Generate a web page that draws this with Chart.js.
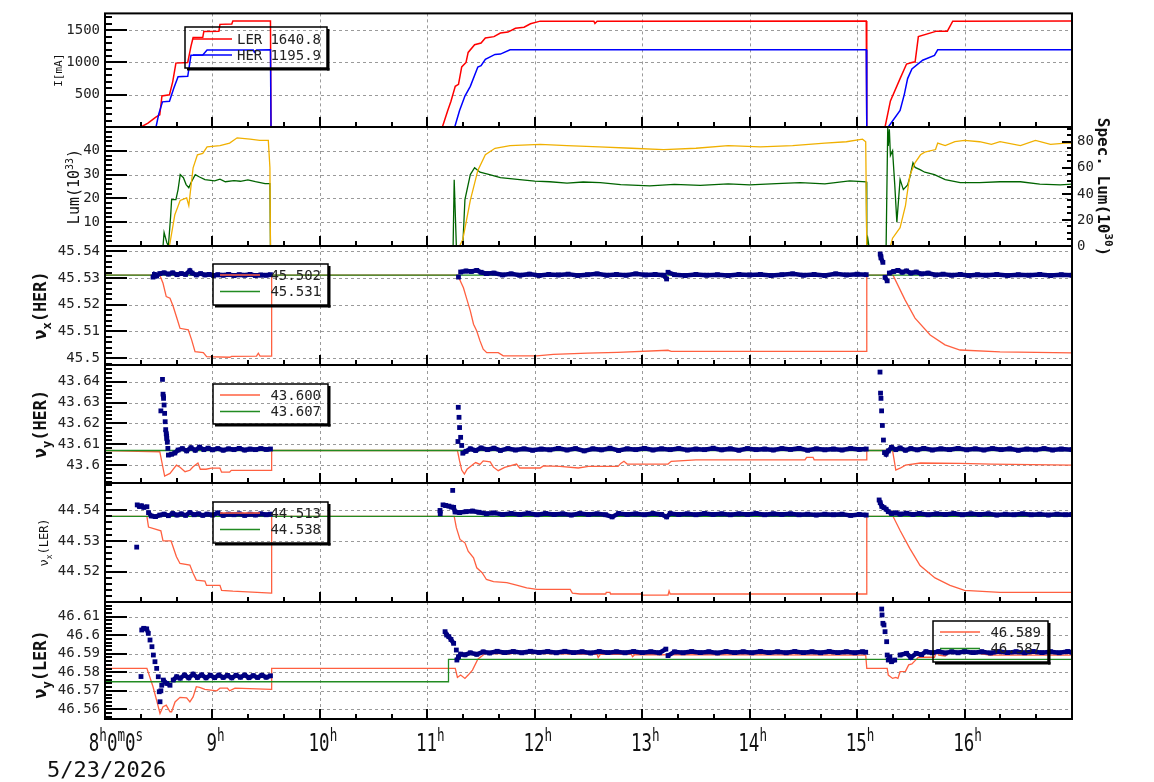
<!DOCTYPE html>
<html>
<head>
<meta charset="utf-8">
<script src="https://cdn.jsdelivr.net/npm/chart.js@4.4.1/dist/chart.umd.min.js"></script>
<style>
  body { margin: 0; background: #fff; }
  #wrap { position: relative; width: 1154px; height: 782px; }
  #wrap canvas { position: absolute; left: 0; top: 0; }
</style>
</head>
<body>
<div id="wrap"></div>
<script>
// ---- data (time in hours) ----
const X_MIN = 8, X_MAX = 17;
const HOUR_TICKS = [8, 9, 10, 11, 12, 13, 14, 15, 16];
const DATE_LABEL = '5/23/2026';

// beam currents [mA]
const I_TICKS = [500, 1000, 1500];
const I_NAMES = ['LER', 'HER'];
const I_LAST = ['1640.8', '1195.9'];
const I_LER = [[8,0],[8.335,0],[8.40,60],[8.47,150],[8.51,190],[8.53,480],[8.60,500],[8.63,700],[8.66,990],[8.77,1000],[8.80,1250],[8.82,1385],[8.91,1390],[8.92,1480],[9.06,1485],[9.07,1590],[9.18,1595],[9.19,1642],[9.54,1642],[9.545,0],
  [11.14,0],[11.19,255],[11.22,400],[11.26,630],[11.29,660],[11.32,930],[11.36,1000],[11.38,1155],[11.44,1275],[11.50,1300],[11.54,1380],[11.62,1400],[11.68,1455],[11.75,1470],[11.82,1530],[11.90,1545],[11.96,1600],[12.05,1640],[12.55,1640],[12.56,1605],[12.58,1640],[15.085,1641],[15.09,0],
  [15.26,0],[15.31,405],[15.40,750],[15.46,975],[15.51,1000],[15.54,1010],[15.57,1400],[15.74,1485],[15.84,1485],[15.89,1640],[17,1641]];
const I_HER = [[8,0],[8.475,0],[8.50,200],[8.535,390],[8.60,400],[8.64,600],[8.68,780],[8.77,785],[8.79,1000],[8.80,1110],[8.91,1115],[8.95,1192],[9.38,1193],[9.39,1160],[9.41,1193],[9.54,1195],[9.545,0],
  [11.255,0],[11.30,255],[11.35,480],[11.40,630],[11.47,930],[11.50,950],[11.54,1050],[11.63,1125],[11.68,1130],[11.77,1195],[15.085,1196],[15.09,0],
  [15.29,0],[15.40,255],[15.44,510],[15.47,750],[15.51,900],[15.61,1035],[15.72,1110],[15.75,1196],[17,1196]];

// luminosity [1e33] (left) and specific luminosity [1e30] (right)
const LUM_TICKS = [10, 20, 30, 40];
const SPEC_TICKS = [0, 20, 40, 60, 80];
const LUM = [[8,0],[8.54,0],[8.55,5.7],[8.575,1.5],[8.59,0],[8.61,12],[8.62,19.5],[8.66,19.5],[8.68,23.7],[8.70,30],[8.73,28.7],[8.755,25.8],[8.78,24.5],[8.80,26.6],[8.84,30],[8.88,29],[8.93,27.9],[9.02,27.4],[9.07,28.1],[9.12,27],[9.20,27.5],[9.26,27.2],[9.33,27.8],[9.40,27],[9.49,26.2],[9.535,26.2],[9.54,0],
  [11.24,0],[11.25,27.8],[11.27,0],[11.33,0],[11.35,19.5],[11.40,30],[11.44,32.9],[11.49,31],[11.58,30],[11.68,28.7],[11.86,27.9],[12.0,27.3],[12.14,27],[12.3,26.4],[12.45,26.9],[12.61,26.6],[12.8,25.8],[13.07,25.3],[13.3,25.9],[13.54,25.5],[13.8,26.1],[14.0,25.7],[14.25,26.2],[14.47,26.6],[14.7,26.1],[14.93,27.4],[15.085,27],[15.09,0],[15.10,3],[15.11,0],
  [15.27,0],[15.285,49.6],[15.29,42],[15.30,49],[15.31,38],[15.33,40],[15.35,26],[15.37,10],[15.38,16],[15.40,28],[15.43,23.7],[15.47,25.7],[15.49,28.7],[15.52,35],[15.54,33],[15.59,32],[15.63,31],[15.72,30],[15.82,27.9],[15.96,26.6],[16.14,26.6],[16.33,27],[16.52,27],[16.70,26],[16.89,25.7],[17,26]];
const SPEC_LUM = [[8,0],[8.60,0],[8.65,24],[8.70,35],[8.76,37],[8.78,31],[8.82,60],[8.86,70],[8.91,71],[8.95,76],[9.07,77],[9.16,79],[9.23,83],[9.35,82],[9.44,81],[9.52,81],[9.535,60],[9.54,0],
  [11.30,0],[11.33,5],[11.40,35],[11.47,58],[11.54,70],[11.63,75],[11.77,77],[12.05,78],[12.3,77],[12.6,76],[12.9,75],[13.2,74],[13.5,75],[13.8,77],[14.1,76],[14.4,77],[14.7,79],[14.9,80],[15.05,82],[15.08,80],[15.09,0],
  [15.31,0],[15.33,6],[15.40,14],[15.45,31],[15.49,54],[15.54,64],[15.59,70],[15.63,72],[15.73,74],[15.75,79],[15.82,77],[15.91,80],[16.00,81],[16.14,80],[16.25,78],[16.33,80],[16.52,77],[16.66,81],[16.80,78],[16.94,79],[17,79]];

// horizontal tune, HER
const NUX_HER_TICKS = [45.5, 45.51, 45.52, 45.53, 45.54];
const NUX_HER_LEG = ['45.502', '45.531'];
const NUX_HER_SET = [[8,45.531],[8.51,45.531],[8.54,45.528],[8.57,45.523],[8.605,45.5224],[8.635,45.5193],[8.665,45.5155],[8.698,45.5112],[8.775,45.5106],[8.807,45.5068],[8.838,45.5025],[8.915,45.5021],[8.946,45.5006],[9.163,45.5004],[9.178,45.5007],[9.41,45.5008],[9.427,45.5019],[9.443,45.5008],[9.55,45.5008],[9.551,45.531],
  [11.29,45.531],[11.30,45.5295],[11.336,45.5263],[11.368,45.522],[11.40,45.5177],[11.43,45.5127],[11.46,45.5102],[11.49,45.5065],[11.52,45.5034],[11.553,45.5021],[11.66,45.5021],[11.707,45.5009],[12.018,45.5009],[12.173,45.5015],[12.49,45.5019],[12.77,45.5022],[13.24,45.503],[13.27,45.5026],[15.088,45.5026],[15.09,45.531],
  [15.334,45.531],[15.446,45.5218],[15.539,45.515],[15.68,45.5087],[15.818,45.505],[15.958,45.5031],[16.33,45.5024],[17,45.502]];
const NUX_HER_REF = [[8,45.531],[17,45.531]];
const NUX_HER_MEAS = [[8.447,45.5303],[8.46,45.5313],[8.48,45.5307],[8.51,45.5316],[8.55,45.5319],[8.59,45.5314],[8.63,45.5319],[8.67,45.5312],[8.71,45.5316],[8.75,45.5313],[8.79,45.5327],[8.81,45.5318],[8.85,45.5311],[8.89,45.5316],[8.93,45.5311],[8.97,45.5313],[9.01,45.5309],[9.05,45.5312],[9.10,45.5310],[9.15,45.5313],[9.20,45.5309],[9.25,45.5312],[9.30,45.5310],[9.35,45.5313],[9.40,45.5309],[9.45,45.5311],[9.50,45.5310],[9.54,45.5312],
  [11.29,45.5303],[11.31,45.5322],[11.36,45.5326],[11.41,45.5324],[11.46,45.5328],[11.50,45.5321],[11.55,45.5316],[11.62,45.5318],[11.70,45.5311],[11.78,45.5315],[11.86,45.5310],[11.95,45.5314],[12.04,45.5309],[12.13,45.5313],[12.22,45.5311],[12.31,45.5314],[12.40,45.5309],[12.49,45.5312],[12.58,45.5315],[12.67,45.5310],[12.76,45.5313],[12.85,45.5310],[12.94,45.5315],[13.03,45.5311],[13.12,45.5313],[13.20,45.5310],[13.227,45.5296],[13.24,45.5321],[13.30,45.5312],[13.40,45.5309],[13.50,45.5313],[13.60,45.5310],[13.70,45.5312],[13.80,45.5309],[13.90,45.5313],[14.00,45.5311],[14.10,45.5313],[14.20,45.5309],[14.30,45.5312],[14.40,45.5315],[14.50,45.5310],[14.60,45.5313],[14.70,45.5309],[14.80,45.5315],[14.90,45.5311],[15.00,45.5314],[15.085,45.5312],
  [15.215,45.5389],[15.222,45.5375],[15.24,45.5358],[15.26,45.5302],[15.28,45.5289],[15.30,45.5318],[15.34,45.5324],[15.38,45.5328],[15.42,45.5321],[15.46,45.5326],[15.50,45.5318],[15.55,45.5322],[15.60,45.5315],[15.66,45.5318],[15.73,45.5311],[15.80,45.5314],[15.88,45.5310],[15.96,45.5313],[16.04,45.5309],[16.12,45.5312],[16.20,45.5310],[16.30,45.5313],[16.40,45.5309],[16.50,45.5312],[16.60,45.5310],[16.70,45.5313],[16.80,45.5309],[16.90,45.5312],[17.0,45.5310]];

// vertical tune, HER
const NUY_HER_TICKS = [43.6, 43.61, 43.62, 43.63, 43.64];
const NUY_HER_LEG = ['43.600', '43.607'];
const NUY_HER_SET = [[8,43.607],[8.51,43.6064],[8.555,43.5947],[8.605,43.596],[8.665,43.600],[8.698,43.599],[8.745,43.5968],[8.79,43.5975],[8.82,43.5992],[8.865,43.601],[8.887,43.598],[8.94,43.598],[8.99,43.5985],[9.07,43.5985],[9.085,43.5966],[9.16,43.5966],[9.175,43.5975],[9.55,43.5975],[9.551,43.607],
  [11.28,43.607],[11.30,43.602],[11.32,43.5976],[11.345,43.5957],[11.37,43.598],[11.43,43.6005],[11.45,43.6012],[11.49,43.6003],[11.52,43.602],[11.585,43.6015],[11.615,43.599],[11.66,43.5973],[11.72,43.5989],[11.83,43.6005],[11.86,43.5986],[12.05,43.5986],[12.08,43.5996],[12.235,43.5994],[12.405,43.5986],[12.50,43.5994],[12.775,43.5994],[12.80,43.6008],[12.83,43.6018],[12.86,43.6005],[13.24,43.6005],[13.27,43.6018],[13.50,43.6025],[14.515,43.6025],[14.53,43.6037],[14.59,43.6037],[14.60,43.6025],[15.088,43.6025],[15.09,43.607],
  [15.33,43.607],[15.36,43.5976],[15.40,43.5985],[15.45,43.600],[15.59,43.601],[15.96,43.6008],[16.25,43.6005],[17,43.600]];
const NUY_HER_REF = [[8,43.607],[17,43.607]];
const NUY_HER_MEAS = [[8.52,43.626],[8.535,43.6411],[8.54,43.634],[8.545,43.632],[8.55,43.6288],[8.555,43.6248],[8.56,43.6208],[8.565,43.617],[8.57,43.615],[8.575,43.6128],[8.58,43.611],[8.585,43.608],[8.59,43.6048],[8.62,43.6052],[8.65,43.6058],[8.68,43.6072],[8.72,43.6079],[8.76,43.6068],[8.80,43.6083],[8.84,43.6071],[8.88,43.6086],[8.92,43.6074],[8.96,43.6081],[9.00,43.6073],[9.05,43.6079],[9.10,43.6071],[9.15,43.6078],[9.20,43.6074],[9.25,43.6080],[9.30,43.6072],[9.35,43.6077],[9.40,43.6074],[9.45,43.6079],[9.50,43.6075],[9.54,43.6077],
  [11.285,43.6113],[11.288,43.6277],[11.295,43.6229],[11.30,43.618],[11.31,43.6133],[11.32,43.6094],[11.33,43.6057],[11.36,43.6066],[11.40,43.6078],[11.45,43.607],[11.50,43.6082],[11.56,43.6074],[11.62,43.6081],[11.68,43.607],[11.75,43.6079],[11.82,43.6072],[11.90,43.6078],[11.98,43.6071],[12.06,43.6077],[12.14,43.6073],[12.22,43.6080],[12.30,43.6072],[12.38,43.6079],[12.46,43.6068],[12.54,43.6078],[12.62,43.6073],[12.70,43.6081],[12.78,43.6070],[12.86,43.6078],[12.94,43.6074],[13.02,43.6080],[13.10,43.6072],[13.18,43.6078],[13.26,43.6074],[13.34,43.6079],[13.42,43.6072],[13.50,43.6077],[13.58,43.6074],[13.66,43.6081],[13.74,43.6073],[13.82,43.6078],[13.90,43.6071],[13.98,43.6079],[14.06,43.6074],[14.14,43.6077],[14.22,43.6072],[14.30,43.6079],[14.38,43.6075],[14.46,43.6080],[14.54,43.6071],[14.62,43.6078],[14.70,43.6073],[14.78,43.6077],[14.86,43.6072],[14.94,43.6079],[15.02,43.6075],[15.085,43.6077],
  [15.213,43.6446],[15.218,43.6345],[15.222,43.632],[15.228,43.626],[15.235,43.619],[15.245,43.612],[15.255,43.606],[15.27,43.6052],[15.29,43.6068],[15.32,43.6085],[15.36,43.6074],[15.40,43.6082],[15.45,43.6071],[15.50,43.6079],[15.56,43.6073],[15.62,43.6080],[15.70,43.6072],[15.78,43.6078],[15.86,43.6074],[15.94,43.6080],[16.02,43.6073],[16.10,43.6078],[16.18,43.6072],[16.26,43.6079],[16.34,43.6074],[16.42,43.6078],[16.50,43.6071],[16.58,43.6077],[16.66,43.6073],[16.74,43.6079],[16.82,43.6072],[16.90,43.6077],[17.0,43.6074]];

// horizontal tune, LER
const NUX_LER_TICKS = [44.52, 44.53, 44.54];
const NUX_LER_LEG = ['44.513', '44.538'];
const NUX_LER_SET = [[8,44.538],[8.39,44.538],[8.405,44.5345],[8.52,44.5333],[8.54,44.530],[8.615,44.530],[8.665,44.5249],[8.698,44.5227],[8.79,44.5222],[8.82,44.5195],[8.85,44.5173],[8.93,44.517],[8.945,44.5156],[9.07,44.5156],[9.085,44.514],[9.19,44.5137],[9.55,44.5131],[9.551,44.538],
  [11.25,44.538],[11.27,44.5343],[11.304,44.5305],[11.35,44.5294],[11.38,44.5267],[11.43,44.5245],[11.46,44.5213],[11.51,44.5197],[11.55,44.5175],[11.616,44.5168],[11.74,44.5165],[11.83,44.5157],[11.925,44.5148],[12.02,44.5143],[12.33,44.5143],[12.35,44.5131],[12.42,44.5128],[12.66,44.5128],[12.665,44.5133],[12.70,44.5133],[12.705,44.5128],[12.99,44.5128],[13.0,44.5124],[13.24,44.5124],[13.25,44.5138],[13.26,44.5128],[15.088,44.5128],[15.09,44.538],
  [15.334,44.538],[15.40,44.5334],[15.49,44.5276],[15.586,44.522],[15.725,44.518],[15.865,44.5156],[16.0,44.514],[16.33,44.5133],[17,44.5133]];
const NUX_LER_REF = [[8,44.538],[17,44.538]];
const NUX_LER_MEAS = [[8.295,44.528],[8.30,44.5417],[8.32,44.5412],[8.34,44.5414],[8.36,44.5409],[8.39,44.5411],[8.405,44.5392],[8.43,44.5381],[8.47,44.5379],[8.51,44.5384],[8.55,44.5387],[8.59,44.5382],[8.63,44.5389],[8.67,44.5384],[8.71,44.5388],[8.75,44.5383],[8.79,44.5392],[8.83,44.5385],[8.87,44.5388],[8.91,44.5383],[8.95,44.5387],[9.00,44.5384],[9.05,44.5391],[9.10,44.5383],[9.15,44.5387],[9.20,44.5385],[9.25,44.5388],[9.30,44.5383],[9.35,44.5387],[9.40,44.5384],[9.45,44.5388],[9.50,44.5385],[9.54,44.5387],
  [11.118,44.5399],[11.12,44.5388],[11.146,44.5417],[11.17,44.5415],[11.20,44.5413],[11.225,44.541],[11.236,44.5464],[11.245,44.5409],[11.258,44.5394],[11.30,44.5392],[11.36,44.5395],[11.42,44.5397],[11.48,44.5393],[11.55,44.5388],[11.62,44.5391],[11.70,44.5386],[11.78,44.5389],[11.86,44.5386],[11.94,44.5390],[12.02,44.5385],[12.10,44.5389],[12.18,44.5386],[12.26,44.5388],[12.34,44.5384],[12.42,44.5389],[12.50,44.5386],[12.58,44.5388],[12.66,44.5385],[12.72,44.5378],[12.78,44.5389],[12.86,44.5386],[12.94,44.5388],[13.02,44.5385],[13.10,44.5389],[13.18,44.5386],[13.227,44.5378],[13.26,44.5389],[13.34,44.5386],[13.42,44.5388],[13.50,44.5385],[13.58,44.5389],[13.66,44.5386],[13.74,44.5388],[13.82,44.5385],[13.90,44.5388],[13.98,44.5386],[14.06,44.5389],[14.14,44.5385],[14.22,44.5388],[14.30,44.5386],[14.38,44.5388],[14.46,44.5385],[14.54,44.5387],[14.62,44.5384],[14.70,44.5387],[14.78,44.5385],[14.86,44.5387],[14.94,44.5383],[15.02,44.5386],[15.085,44.5384],
  [15.205,44.5433],[15.215,44.5424],[15.23,44.5412],[15.25,44.5408],[15.27,44.5403],[15.29,44.5395],[15.32,44.5389],[15.36,44.5391],[15.40,44.5387],[15.46,44.5390],[15.52,44.5386],[15.58,44.5389],[15.66,44.5385],[15.74,44.5388],[15.82,44.5386],[15.90,44.5389],[15.98,44.5385],[16.06,44.5388],[16.14,44.5386],[16.22,44.5388],[16.30,44.5384],[16.38,44.5387],[16.46,44.5385],[16.54,44.5388],[16.62,44.5385],[16.70,44.5387],[16.78,44.5384],[16.86,44.5387],[16.94,44.5385],[17.0,44.5386]];

// vertical tune, LER
const NUY_LER_TICKS = [46.56, 46.57, 46.58, 46.59, 46.6, 46.61];
const NUY_LER_LEG = ['46.589', '46.587'];
const NUY_LER_SET = [[8,46.5821],[8.39,46.5821],[8.447,46.5722],[8.48,46.565],[8.512,46.5578],[8.54,46.5614],[8.57,46.5623],[8.605,46.5587],[8.62,46.5587],[8.652,46.564],[8.698,46.5665],[8.76,46.5662],[8.79,46.564],[8.82,46.5667],[8.85,46.5722],[8.88,46.5718],[8.93,46.5708],[9.04,46.570],[9.07,46.5714],[9.14,46.5714],[9.16,46.570],[9.21,46.5714],[9.55,46.5708],[9.551,46.5821],
  [11.26,46.5821],[11.28,46.5772],[11.31,46.5785],[11.35,46.5767],[11.38,46.5785],[11.42,46.5812],[11.47,46.587],[11.54,46.5902],[11.78,46.590],[11.79,46.5904],[12.58,46.5897],[12.59,46.588],[12.61,46.5897],[12.9,46.5896],[12.91,46.5884],[12.93,46.5895],[15.08,46.5893],[15.09,46.5821],
  [15.28,46.5821],[15.29,46.5785],[15.33,46.5767],[15.36,46.5772],[15.38,46.5767],[15.40,46.5803],[15.45,46.5805],[15.48,46.584],[15.51,46.5845],[15.54,46.5863],[15.57,46.5881],[15.72,46.5881],[15.74,46.5911],[15.76,46.5893],[15.82,46.5888],[15.86,46.5906],[16.08,46.5906],[16.19,46.5896],[16.23,46.5893],[17,46.5893]];
const NUY_LER_REF = [[8,46.5749],[11.196,46.5749],[11.197,46.587],[17,46.587]];
const NUY_LER_MEAS = [[8.335,46.5777],[8.342,46.6028],[8.36,46.6037],[8.388,46.6034],[8.403,46.601],[8.419,46.5974],[8.437,46.5938],[8.45,46.5893],[8.465,46.5857],[8.481,46.5821],[8.496,46.5776],[8.505,46.5695],[8.512,46.5641],[8.52,46.570],[8.528,46.573],[8.543,46.5758],[8.574,46.574],[8.605,46.573],[8.635,46.5758],[8.667,46.5776],[8.70,46.5768],[8.74,46.5785],[8.78,46.5770],[8.82,46.5790],[8.86,46.5772],[8.90,46.5786],[8.94,46.5770],[8.98,46.5784],[9.02,46.5771],[9.06,46.5785],[9.10,46.5772],[9.14,46.5783],[9.18,46.5770],[9.22,46.5784],[9.26,46.5773],[9.30,46.5785],[9.34,46.5771],[9.38,46.5782],[9.42,46.5772],[9.46,46.5784],[9.50,46.5773],[9.54,46.5781],
  [11.165,46.6019],[11.18,46.6001],[11.20,46.5992],[11.22,46.5977],[11.245,46.5956],[11.27,46.592],[11.275,46.5866],[11.29,46.5884],[11.31,46.5898],[11.35,46.5894],[11.40,46.5905],[11.46,46.5897],[11.52,46.5910],[11.58,46.5904],[11.65,46.5913],[11.72,46.5906],[11.80,46.5912],[11.88,46.5905],[11.96,46.5913],[12.04,46.5907],[12.12,46.5912],[12.20,46.5905],[12.28,46.5913],[12.36,46.5906],[12.44,46.5911],[12.52,46.5904],[12.60,46.5912],[12.68,46.5906],[12.76,46.5911],[12.84,46.5905],[12.92,46.5912],[13.00,46.5906],[13.08,46.5911],[13.16,46.5905],[13.22,46.5925],[13.24,46.5890],[13.30,46.5910],[13.38,46.5905],[13.46,46.5912],[13.54,46.5906],[13.62,46.5911],[13.70,46.5904],[13.78,46.5912],[13.86,46.5906],[13.94,46.5911],[14.02,46.5905],[14.10,46.5912],[14.18,46.5906],[14.26,46.5911],[14.34,46.5905],[14.42,46.5912],[14.50,46.5906],[14.58,46.5911],[14.66,46.5905],[14.74,46.5912],[14.82,46.5906],[14.90,46.5911],[14.98,46.5905],[15.05,46.5911],[15.08,46.5908],
  [15.229,46.6141],[15.232,46.6109],[15.24,46.6064],[15.25,46.6055],[15.26,46.6019],[15.275,46.5965],[15.28,46.5893],[15.29,46.5866],[15.305,46.5884],[15.32,46.5857],[15.35,46.5866],[15.40,46.5893],[15.46,46.5902],[15.50,46.588],[15.55,46.5902],[15.60,46.5895],[15.64,46.5911],[15.70,46.5905],[15.76,46.5912],[15.82,46.5904],[15.88,46.5911],[15.94,46.5905],[16.00,46.5912],[16.08,46.5906],[16.16,46.5911],[16.24,46.5904],[16.32,46.5912],[16.40,46.5906],[16.48,46.5911],[16.56,46.5905],[16.64,46.5912],[16.72,46.5906],[16.80,46.5911],[16.88,46.5905],[16.96,46.5912],[17.0,46.5908]];

// ---- drawing ----
const W = 1154, H = 782, LEFT = 105, RIGHT = 1072;
const MONO = '"DejaVu Sans Mono", monospace';
const NAVY = '#000080', TOMATO = '#ff6040', GREEN = '#228b22';
const wrap = document.getElementById('wrap');

const xy = arr => arr.map(p => ({ x: p[0], y: p[1] }));
const fmt = v => String(+(+v).toFixed(3));

function line(data, color, order, extra) {
  return Object.assign({ data: xy(data), borderColor: color, borderWidth: 1.3, pointRadius: 0, tension: 0, fill: false, order }, extra || {});
}
function meas(data) {
  return {
    data: xy(data), order: 0, borderColor: NAVY, borderWidth: 4.5, tension: 0, fill: false,
    pointStyle: 'rect', pointRadius: 3.4, pointBackgroundColor: NAVY, pointBorderWidth: 0,
    segment: { borderColor: c => (Math.abs(c.p1.y - c.p0.y) > 5 || c.p1.x - c.p0.x > 25) ? 'rgba(0,0,0,0)' : NAVY }
  };
}

// text made of parts: [text, 'sub'|'sup'|undefined]
function drawParts(ctx, parts, cx, cy, rot, size, weight, sx, supScale) {
  ctx.save();
  ctx.translate(cx, cy);
  ctx.rotate(rot);
  ctx.scale(sx || 1, 1);
  const ss = supScale || 0.68;
  const font = p => `${weight} ${p[1] ? Math.round(size * ss) : size}px ${MONO}`;
  let w = 0;
  const ws = parts.map(p => { ctx.font = font(p); const m = ctx.measureText(p[0]).width; w += m; return m; });
  let x = -w / 2;
  ctx.fillStyle = '#111';
  ctx.textBaseline = 'alphabetic';
  ctx.textAlign = 'left';
  parts.forEach((p, i) => {
    ctx.font = font(p);
    const dy = p[1] === 'sub' ? size * 0.28 : p[1] === 'sup' ? -size * 0.42 : 0;
    ctx.fillText(p[0], x, size * 0.36 + dy);
    x += ws[i];
  });
  ctx.restore();
}

function drawLegend(ctx, L) {
  const [bx, by, bw, bh] = L.box;
  ctx.save();
  ctx.lineWidth = 1.5; ctx.strokeStyle = '#000';
  ctx.strokeRect(bx, by, bw, bh);
  ctx.fillStyle = '#000';
  ctx.fillRect(bx + bw, by + 2, 2.5, bh + 0.5);
  ctx.fillRect(bx + 2, by + bh, bw + 0.5, 2.5);
  ctx.font = `14px ${MONO}`;
  ctx.textBaseline = 'middle';
  L.items.forEach((it, i) => {
    const y = L.rows[i];
    ctx.strokeStyle = it.color; ctx.lineWidth = 1.3;
    ctx.beginPath(); ctx.moveTo(L.s0, y); ctx.lineTo(L.s1, y); ctx.stroke();
    ctx.fillStyle = '#222';
    if (it.name) { ctx.textAlign = 'left'; ctx.fillText(it.name, L.s1 + 5, y + 1); }
    ctx.textAlign = 'right'; ctx.fillText(it.value, L.vx, y + 1);
  });
  ctx.restore();
}

const framePlugin = {
  id: 'frame',
  beforeDatasetsDraw(chart) {
    const { ctx, chartArea: a } = chart;
    const xs = chart.scales.x, ys = chart.scales.y;
    ctx.save();
    ctx.strokeStyle = '#9a9a9a'; ctx.lineWidth = 1; ctx.setLineDash([3, 3]);
    ctx.beginPath();
    HOUR_TICKS.forEach(h => {
      const px = Math.round(xs.getPixelForValue(h)) + 0.5;
      if (px > a.left + 2 && px < a.right - 2) { ctx.moveTo(px, a.top); ctx.lineTo(px, a.bottom); }
    });
    ys.ticks.forEach(t => {
      const py = Math.round(ys.getPixelForValue(t.value)) + 0.5;
      if (py > a.top + 2 && py < a.bottom - 2) { ctx.moveTo(a.left, py); ctx.lineTo(a.right, py); }
    });
    ctx.stroke();
    ctx.restore();
  },
  afterDraw(chart, args, o) {
    const { ctx, chartArea: a } = chart;
    const xs = chart.scales.x, ys = chart.scales.y;
    ctx.save();
    ctx.fillStyle = '#000';
    // inward x ticks every 20 min
    for (let k = 0; k <= 27; k++) {
      const px = Math.round(xs.getPixelForValue(X_MIN + k / 3));
      const len = k % 3 === 0 ? 10 : 5;
      ctx.fillRect(px - 1, a.bottom - len, 2, len);
    }
    // inward y ticks, left
    const majors = ys.ticks.map(t => t.value);
    for (let n = Math.ceil(ys.min / o.minor - 1e-6); n * o.minor <= ys.max + 1e-9; n++) {
      const v = n * o.minor;
      const py = Math.round(ys.getPixelForValue(v));
      const major = majors.some(m => Math.abs(m - v) < o.minor / 10) || Math.abs(v % (o.minor * 5)) < o.minor / 10;
      ctx.fillRect(a.left, py - 1, major ? 22 : 7, 2);
    }
    // inward y ticks, right
    if (chart.scales.y2) {
      const y2 = chart.scales.y2;
      for (let v = 0; v <= y2.max; v += o.minor2) {
        const py = Math.round(y2.getPixelForValue(v));
        const len = v % 20 === 0 ? 10 : 5;
        ctx.fillRect(a.right - len, py - 1, len, 2);
      }
    }
    // frame
    ctx.lineWidth = 2; ctx.strokeStyle = '#000';
    ctx.strokeRect(a.left, a.top, a.right - a.left, a.bottom - a.top);
    ctx.restore();

    drawParts(ctx, o.title, o.titleX, (a.top + a.bottom) / 2 + (o.titleDy || 0), -Math.PI / 2, o.titleSize, o.titleWeight);
    if (o.title2) drawParts(ctx, o.title2, 1104, 187, Math.PI / 2, 16, 'bold');
    if (o.legend) drawLegend(ctx, o.legend);

    if (o.xlabels) {
      HOUR_TICKS.forEach(h => {
        const px = xs.getPixelForValue(h);
        if (h === X_MIN) {
          drawParts(ctx, [['8'], ['h', 'sup'], ['0'], ['m', 'sup'], ['0'], ['s', 'sup']], px + 11, 742, 0, 25, 'normal', 0.7, 0.72);
        } else {
          drawParts(ctx, [[String(h)], ['h', 'sup']], px + 3, 742, 0, 25, 'normal', 0.7, 0.72);
        }
      });
      ctx.save();
      ctx.font = `22px ${MONO}`; ctx.fillStyle = '#111'; ctx.textAlign = 'left'; ctx.textBaseline = 'alphabetic';
      ctx.fillText(DATE_LABEL, 47, 777);
      ctx.restore();
    }
  }
};

function makeChart(p) {
  const cv = document.createElement('canvas');
  cv.width = W; cv.height = H;
  wrap.appendChild(cv);
  const tickFont = { family: MONO, size: 14 };
  const scales = {
    x: { type: 'linear', min: X_MIN, max: X_MAX, grid: { display: false, drawTicks: false }, border: { display: false },
         ticks: { display: false }, afterFit: s => { s.height = 0; } },
    y: { type: 'linear', position: 'left', min: p.ymin, max: p.ymax, grid: { display: false, drawTicks: false }, border: { display: false },
         afterBuildTicks: s => { s.ticks = p.ticks.map(v => ({ value: v })); },
         afterFit: s => { s.width = LEFT; },
         ticks: { color: '#222', font: tickFont, padding: 5, autoSkip: false, callback: v => fmt(v) } }
  };
  if (p.ticks2) {
    scales.y2 = { type: 'linear', position: 'right', min: p.y2min, max: p.y2max, grid: { display: false, drawTicks: false }, border: { display: false },
      afterBuildTicks: s => { s.ticks = p.ticks2.map(v => ({ value: v })); },
      afterFit: s => { s.width = W - RIGHT; },
      ticks: { color: '#222', font: tickFont, padding: 5, autoSkip: false, callback: v => fmt(v) } };
  }
  return new Chart(cv, {
    type: 'line',
    data: { datasets: p.datasets },
    options: {
      responsive: false, animation: false, events: [], devicePixelRatio: 1,
      layout: { autoPadding: false, padding: { top: p.top, bottom: H - p.bottom, left: 0, right: p.ticks2 ? 0 : W - RIGHT } },
      scales,
      plugins: { legend: { display: false }, tooltip: { enabled: false }, frame: p.frame }
    },
    plugins: [framePlugin]
  });
}

const legRows = (top) => [top + 11, top + 27.5];

makeChart({
  top: 10, bottom: 127, ymin: 0, ymax: 1760, ticks: I_TICKS,
  datasets: [line(I_LER, '#ff0000', 1, { borderWidth: 1.5 }), line(I_HER, '#0000ff', 0, { borderWidth: 1.5 })],
  frame: { minor: 100, title: [['I[mA]']], titleX: 58, titleSize: 11, titleWeight: 'normal',
    legend: { box: [185, 27, 142, 41], s0: 193, s1: 232, vx: 321, rows: [39, 55],
      items: [{ color: '#ff0000', name: I_NAMES[0], value: I_LAST[0] }, { color: '#0000ff', name: I_NAMES[1], value: I_LAST[1] }] } }
});

makeChart({
  top: 127, bottom: 246, ymin: 0, ymax: 50, ticks: LUM_TICKS, y2min: 0, y2max: 91.3, ticks2: SPEC_TICKS,
  datasets: [line(LUM, '#006400', 1), line(SPEC_LUM, '#f0b000', 0, { yAxisID: 'y2' })],
  frame: { minor: 2, minor2: 5, title: [['Lum(10'], ['33', 'sup'], [')']], titleX: 74, titleSize: 15, titleWeight: 'normal',
    title2: [['Spec. Lum(10'], ['30', 'sup'], [')']] }
});

makeChart({
  top: 246, bottom: 365, ymin: 45.4975, ymax: 45.5419, ticks: NUX_HER_TICKS,
  datasets: [line(NUX_HER_SET, TOMATO, 2), line(NUX_HER_REF, GREEN, 1), meas(NUX_HER_MEAS)],
  frame: { minor: 0.002, title: [['ν'], ['x', 'sub'], ['(HER)']], titleX: 40, titleSize: 17, titleWeight: 'bold',
    legend: { box: [213, 264, 115, 41], s0: 220, s1: 260, vx: 321, rows: legRows(264),
      items: [{ color: TOMATO, value: NUX_HER_LEG[0] }, { color: GREEN, value: NUX_HER_LEG[1] }] } }
});

makeChart({
  top: 365, bottom: 483, ymin: 43.5914, ymax: 43.648, ticks: NUY_HER_TICKS,
  datasets: [line(NUY_HER_SET, TOMATO, 2), line(NUY_HER_REF, GREEN, 1), meas(NUY_HER_MEAS)],
  frame: { minor: 0.002, title: [['ν'], ['y', 'sub'], ['(HER)']], titleX: 40, titleSize: 17, titleWeight: 'bold',
    legend: { box: [213, 384, 115, 40], s0: 220, s1: 260, vx: 321, rows: legRows(384),
      items: [{ color: TOMATO, value: NUY_HER_LEG[0] }, { color: GREEN, value: NUY_HER_LEG[1] }] } }
});

makeChart({
  top: 483, bottom: 602, ymin: 44.5102, ymax: 44.5488, ticks: NUX_LER_TICKS,
  datasets: [line(NUX_LER_SET, TOMATO, 2), line(NUX_LER_REF, GREEN, 1), meas(NUX_LER_MEAS)],
  frame: { minor: 0.002, title: [['ν'], ['x', 'sub'], ['(LER)']], titleX: 44, titleSize: 12, titleWeight: 'normal',
    legend: { box: [213, 502, 115, 41], s0: 220, s1: 260, vx: 321, rows: legRows(502),
      items: [{ color: TOMATO, value: NUX_LER_LEG[0] }, { color: GREEN, value: NUX_LER_LEG[1] }] } }
});

makeChart({
  top: 602, bottom: 719, ymin: 46.5548, ymax: 46.6179, ticks: NUY_LER_TICKS,
  datasets: [line(NUY_LER_SET, TOMATO, 2), line(NUY_LER_REF, GREEN, 1), meas(NUY_LER_MEAS)],
  frame: { minor: 0.002, title: [['ν'], ['y', 'sub'], ['(LER)']], titleX: 40, titleSize: 17, titleWeight: 'bold', titleDy: 4,
    xlabels: true,
    legend: { box: [933, 621, 115, 41], s0: 940, s1: 980, vx: 1041, rows: legRows(621),
      items: [{ color: TOMATO, value: NUY_LER_LEG[0] }, { color: GREEN, value: NUY_LER_LEG[1] }] } }
});
</script>
</body>
</html>
